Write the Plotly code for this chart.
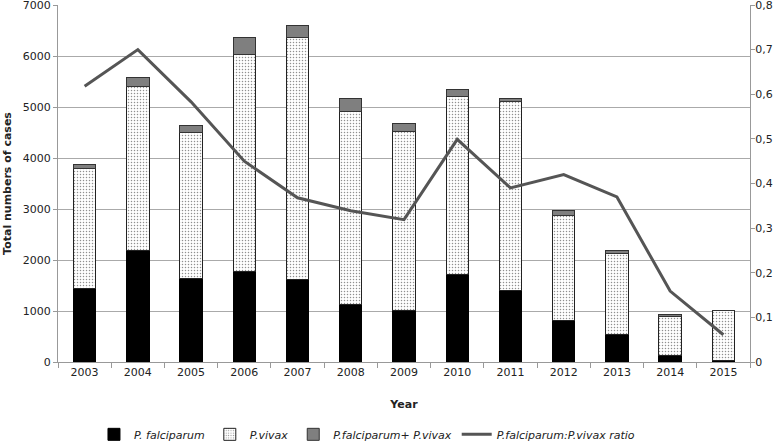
import plotly.graph_objects as go

years = ["2003", "2004", "2005", "2006", "2007", "2008", "2009", "2010", "2011", "2012", "2013", "2014", "2015"]
p_falciparum = [1440, 2190, 1630, 1765, 1615, 1125, 1015, 1710, 1400, 815, 535, 118, 30]
p_vivax = [2350, 3220, 2870, 4260, 4740, 3790, 3500, 3490, 3700, 2050, 1590, 777, 983]
p_mixed = [90, 165, 140, 345, 235, 260, 165, 145, 60, 115, 65, 27, 5]
ratio = [0.618, 0.70, 0.583, 0.45, 0.368, 0.339, 0.319, 0.499, 0.39, 0.42, 0.37, 0.159, 0.061]

left_ticks = [0, 1000, 2000, 3000, 4000, 5000, 6000, 7000]
right_ticks = [0, 0.1, 0.2, 0.3, 0.4, 0.5, 0.6, 0.7, 0.8]
right_labels = ["0", "0,1", "0,2", "0,3", "0,4", "0,5", "0,6", "0,7", "0,8"]

font = "DejaVu Sans"
bar_w = 0.42

fig = go.Figure()
fig.add_trace(go.Bar(
    x=years, y=p_falciparum, name="<i>P. falciparum</i>", width=bar_w,
    marker=dict(color="black", line=dict(color="black", width=1)),
))
fig.add_trace(go.Bar(
    x=years, y=p_vivax, name="<i>P.vivax</i>", width=bar_w,
    marker=dict(color="white", line=dict(color="#222", width=1),
                pattern=dict(shape=".", fgcolor="#222", bgcolor="white", size=3, solidity=0.2)),
))
fig.add_trace(go.Bar(
    x=years, y=p_mixed, name="<i>P.falciparum+ P.vivax</i>", width=bar_w,
    marker=dict(color="#7f7f7f", line=dict(color="#333", width=1)),
))
fig.add_trace(go.Scatter(
    x=years, y=ratio, name="<i>P.falciparum:P.vivax ratio</i>", yaxis="y2",
    mode="lines", line=dict(color="#555555", width=3),
))

fig.update_layout(
    width=778, height=444,
    barmode="stack",
    paper_bgcolor="white", plot_bgcolor="white",
    font=dict(family=font, size=10.5, color="#222"),
    margin=dict(l=58, r=28, t=5, b=82, autoexpand=False),
    xaxis=dict(
        type="category", showline=True, linecolor="#999", linewidth=1,
        ticks="outside", tickson="boundaries", ticklen=5, tickcolor="#999",
        tickfont=dict(size=11), automargin=False,
        title=dict(text="<b>Year</b>", font=dict(size=11), standoff=22),
    ),
    yaxis=dict(
        range=[0, 7000], tickvals=left_ticks, ticktext=[str(v) for v in left_ticks],
        showgrid=True, gridcolor="#aaaaaa", gridwidth=1,
        showline=True, linecolor="#999", ticks="outside", ticklen=4, tickcolor="#999",
        zeroline=False, tickfont=dict(size=11), ticklabeloverflow="allow", automargin=False,
        title=dict(text="<b>Total numbers of cases</b>", font=dict(size=11), standoff=8),
    ),
    yaxis2=dict(
        range=[0, 0.8], overlaying="y", side="right",
        tickvals=right_ticks, ticktext=right_labels,
        showgrid=False, zeroline=False, automargin=False,
        showline=True, linecolor="#999", ticks="outside", ticklen=4, tickcolor="#999",
        tickfont=dict(size=11), ticklabelstandoff=-2, ticklabeloverflow="allow",
    ),
    legend=dict(
        orientation="h", x=0.052, xanchor="left", y=-0.162, yanchor="top",
        font=dict(size=11), traceorder="normal", itemwidth=30,
    ),
    showlegend=True,
)

fig.write_html("out.html", config={"displayModeBar": False},
               post_script="document.body.style.margin='0';document.body.style.padding='0';")
